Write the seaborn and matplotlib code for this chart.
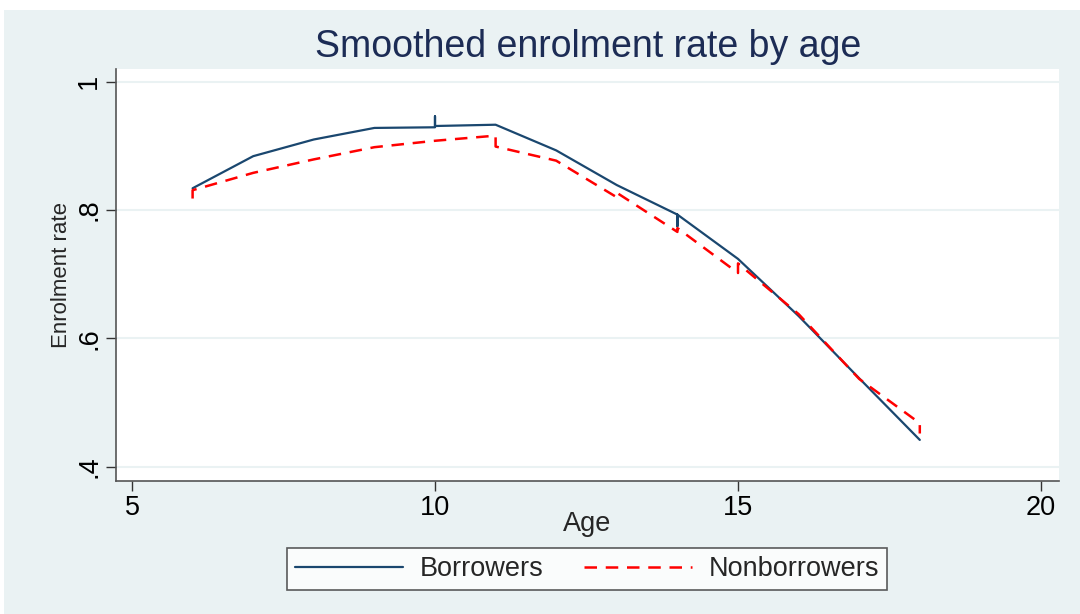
"""
smoothed enrolment rate by age, borrowers vs nonborrowers (stata-like look)
"""
import pandas as pd
import matplotlib.pyplot as plt
import seaborn as sns
from matplotlib.patches import Rectangle
from matplotlib.lines import Line2D

# data (repeated ages = small vertical jumps)
ages_borrow = [6, 7, 8, 9, 10, 10, 10, 11, 12, 13, 14, 14, 14, 15, 16, 17, 18]
rate_borrow = [0.834, 0.884, 0.910, 0.928, 0.929, 0.946, 0.931, 0.933, 0.893,
               0.839, 0.793, 0.775, 0.793, 0.724, 0.635, 0.538, 0.442]
ages_nonborrow = [6, 6, 7, 8, 9, 10, 11, 11, 12, 13, 13, 14, 14, 15, 15, 16, 17, 18, 18]
rate_nonborrow = [0.818, 0.831, 0.858, 0.879, 0.898, 0.908, 0.916, 0.899, 0.877,
                  0.820, 0.827, 0.766, 0.772, 0.702, 0.717, 0.638, 0.537, 0.468, 0.452]
x_ticks = [5, 10, 15, 20]
y_ticks = [0.4, 0.6, 0.8, 1.0]
y_ticklabels = ['.4', '.6', '.8', '1']

BG = '#eaf2f3'
NAVY = '#1a476f'
RED = '#ff0000'

sns.set_theme(style='white')
plt.rcParams['font.family'] = ['Liberation Sans', 'DejaVu Sans']

df_b = pd.DataFrame({'age': ages_borrow, 'rate': rate_borrow})
df_n = pd.DataFrame({'age': ages_nonborrow, 'rate': rate_nonborrow})

fig = plt.figure(figsize=(10.8, 6.14), dpi=100, facecolor='white')
fig.patches.append(Rectangle((4 / 1080, 0), 1, 604 / 614, transform=fig.transFigure,
                             facecolor=BG, edgecolor='none', zorder=-10))

ax = fig.add_axes([116 / 1080, 1 - 481 / 614, 943 / 1080, 412 / 614])
ax.set_facecolor('white')

sns.lineplot(data=df_b, x='age', y='rate', sort=False, estimator=None,
             color=NAVY, linewidth=1.6, ax=ax)
sns.lineplot(data=df_n, x='age', y='rate', sort=False, estimator=None,
             color=RED, linewidth=1.8, linestyle=(0, (5, 3.5)), ax=ax)

ax.set_xlim(4.736, 20.297)
ax.set_ylim(0.378, 1.0198)
ax.set_xticks(x_ticks)
ax.set_yticks(y_ticks)
ax.set_yticklabels(y_ticklabels, rotation=90, va='center')
ax.tick_params(axis='both', which='both', direction='out', length=7, width=1,
               color='#333333', labelsize=19.5, labelcolor='black', pad=3,
               bottom=True, left=True)
ax.grid(axis='y', color=BG, linewidth=1.5)
ax.grid(axis='x', visible=False)
for side in ('top', 'right'):
    ax.spines[side].set_visible(False)
for side in ('left', 'bottom'):
    ax.spines[side].set_color('#555555')
    ax.spines[side].set_linewidth(1.2)

ax.set_xlabel('Age', fontsize=19.5, labelpad=-7)
ax.set_ylabel('Enrolment rate', fontsize=16, labelpad=3)

fig.text(588 / 1080, 1 - 47 / 614, 'Smoothed enrolment rate by age',
         ha='center', va='center', fontsize=27, color='#1c2c55')

handles = [Line2D([], [], color=NAVY, linewidth=1.6),
           Line2D([], [], color=RED, linewidth=1.8, linestyle=(0, (5, 3.5)))]
leg = fig.legend(handles, ['Borrowers', 'Nonborrowers'], loc='center',
                 bbox_to_anchor=(587 / 1080, 1 - 569 / 614), ncol=2,
                 fontsize=19.5, frameon=True, fancybox=False, handlelength=4.0,
                 columnspacing=1.5, handletextpad=0.6, borderpad=0.3,
                 borderaxespad=0)
leg.get_frame().set_edgecolor('#333333')
leg.get_frame().set_linewidth(1.2)
leg.get_frame().set_facecolor('white')

fig.savefig('out.png', dpi=100, facecolor=fig.get_facecolor())
